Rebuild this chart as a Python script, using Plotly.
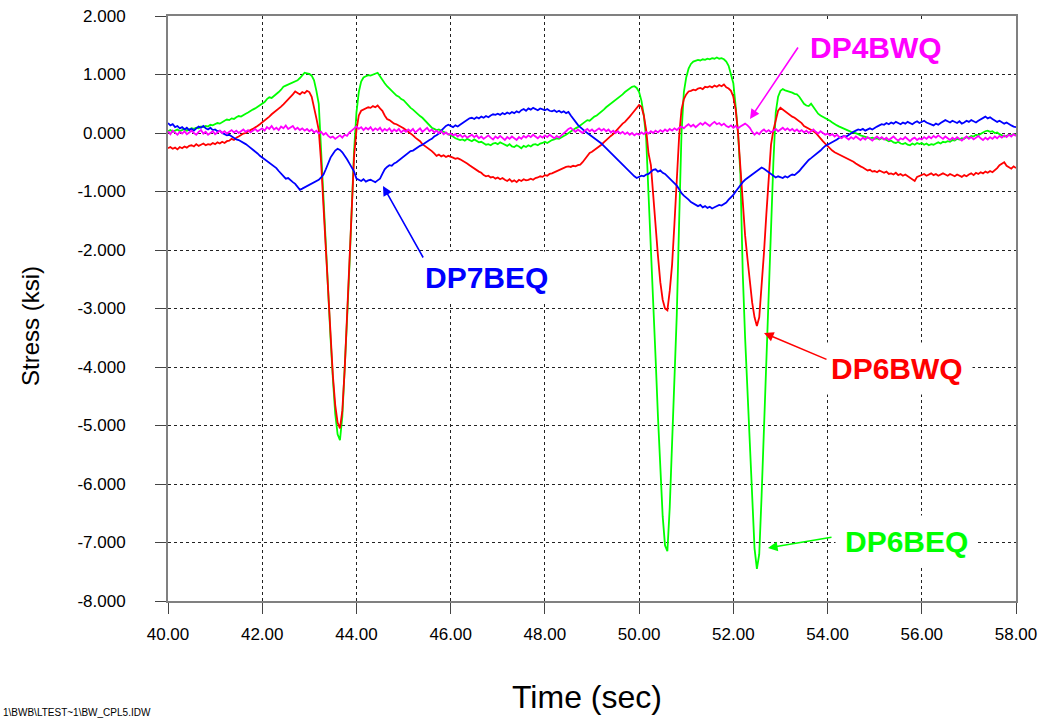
import plotly.graph_objects as go

# ---------------- data (0.05 s sampling, 40.00 .. 58.00 s) ----------------
T_START = 40.0
T_STEP = 0.05

DP6BEQ = [  # green
    0.03, 0.05, 0.02, 0.04, 0.06, 0.03, 0.05, 0.07, 0.04, 0.06, 0.08, 0.07, 0.09, 0.08, 0.11, 0.10, 0.12, 0.11, 0.14, 0.13,
    0.15, 0.17, 0.16, 0.19, 0.21, 0.23, 0.22, 0.25, 0.24, 0.27, 0.29, 0.28, 0.31, 0.33, 0.35, 0.38, 0.40, 0.42, 0.45, 0.47,
    0.50, 0.53, 0.58, 0.61, 0.60, 0.63, 0.66, 0.70, 0.74, 0.79, 0.81, 0.83, 0.84, 0.86, 0.88, 0.90, 0.94, 0.98, 1.03, 1.02,
    1.01, 0.98, 0.90, 0.72, 0.50, -0.30, -1.15, -1.95, -2.75, -3.50, -4.20, -4.80, -5.15, -5.25, -4.85, -4.10, -3.20, -2.30, -1.20, -0.30,
    0.35, 0.70, 0.88, 0.95, 0.97, 0.99, 0.98, 1.00, 1.01, 1.03, 0.97, 0.90, 0.85, 0.80, 0.76, 0.72, 0.68, 0.64, 0.62, 0.58,
    0.56, 0.51, 0.47, 0.43, 0.40, 0.36, 0.33, 0.29, 0.26, 0.22, 0.18, 0.13, 0.09, 0.07, 0.05, 0.06, 0.04, 0.02, 0.00, -0.02,
    -0.03, -0.06, -0.09, -0.10, -0.12, -0.11, -0.13, -0.10, -0.12, -0.14, -0.11, -0.13, -0.16, -0.15, -0.18, -0.20, -0.19, -0.21, -0.18, -0.17,
    -0.19, -0.16, -0.18, -0.20, -0.22, -0.19, -0.23, -0.24, -0.21, -0.23, -0.26, -0.22, -0.24, -0.21, -0.23, -0.20, -0.19, -0.21, -0.18, -0.17,
    -0.15, -0.17, -0.14, -0.12, -0.11, -0.09, -0.10, -0.07, -0.05, -0.03, 0.00, 0.03, 0.05, 0.08, 0.10, 0.13, 0.15, 0.19, 0.22, 0.21,
    0.25, 0.28, 0.30, 0.33, 0.37, 0.40, 0.44, 0.47, 0.51, 0.53, 0.57, 0.60, 0.62, 0.66, 0.70, 0.73, 0.76, 0.79, 0.80, 0.77,
    0.70, 0.55, 0.30, -0.10, -1.05, -1.90, -2.90, -3.85, -4.85, -5.80, -6.55, -7.05, -7.15, -6.40, -5.40, -4.20, -3.10, -1.50, 0.00, 0.70,
    0.95, 1.10, 1.18, 1.22, 1.23, 1.25, 1.24, 1.26, 1.25, 1.27, 1.26, 1.28, 1.27, 1.29, 1.27, 1.28, 1.26, 1.22, 1.15, 1.00,
    0.85, 0.45, 0.00, -0.70, -2.40, -3.50, -4.40, -5.30, -6.20, -7.10, -7.45, -7.20, -6.20, -5.00, -3.80, -2.80, -1.70, -0.50, 0.35, 0.62,
    0.72, 0.75, 0.73, 0.72, 0.70, 0.69, 0.67, 0.66, 0.62, 0.55, 0.50, 0.47, 0.46, 0.50, 0.44, 0.37, 0.33, 0.30, 0.28, 0.26,
    0.24, 0.21, 0.18, 0.15, 0.13, 0.11, 0.09, 0.07, 0.05, 0.04, 0.02, 0.01, 0.00, -0.02, -0.04, -0.05, -0.07, -0.08, -0.09, -0.08,
    -0.10, -0.09, -0.11, -0.09, -0.10, -0.12, -0.14, -0.13, -0.16, -0.17, -0.15, -0.18, -0.19, -0.17, -0.20, -0.21, -0.18, -0.20, -0.17, -0.19,
    -0.17, -0.20, -0.18, -0.21, -0.19, -0.20, -0.18, -0.16, -0.18, -0.15, -0.16, -0.14, -0.15, -0.12, -0.13, -0.10, -0.11, -0.09, -0.10, -0.07,
    -0.08, -0.05, -0.06, -0.03, -0.04, -0.01, 0.01, 0.03, 0.04, 0.02, 0.03, 0.00, 0.01, -0.02, -0.04, -0.06, -0.05, -0.03, -0.04, -0.02,
    -0.03,
]

DP6BWQ = [  # red
    -0.26, -0.24, -0.27, -0.25, -0.28, -0.24, -0.26, -0.23, -0.25, -0.22, -0.21, -0.23, -0.19, -0.22, -0.20, -0.18, -0.21, -0.19, -0.20, -0.17,
    -0.19, -0.16, -0.18, -0.15, -0.17, -0.14, -0.13, -0.10, -0.12, -0.08, -0.06, -0.03, -0.01, 0.00, 0.03, 0.05, 0.07, 0.09, 0.12, 0.15,
    0.18, 0.21, 0.25, 0.28, 0.32, 0.35, 0.38, 0.41, 0.45, 0.49, 0.53, 0.57, 0.62, 0.66, 0.71, 0.68, 0.66, 0.70, 0.68, 0.72,
    0.70, 0.62, 0.45, 0.25, 0.05, -0.50, -1.25, -2.00, -2.80, -3.50, -4.15, -4.65, -4.95, -5.05, -4.75, -4.05, -3.20, -2.30, -1.30, -0.40,
    0.05, 0.30, 0.38, 0.40, 0.42, 0.44, 0.43, 0.46, 0.44, 0.47, 0.42, 0.38, 0.30, 0.24, 0.22, 0.19, 0.16, 0.15, 0.13, 0.10,
    0.08, 0.05, 0.02, 0.00, -0.04, -0.08, -0.11, -0.14, -0.19, -0.22, -0.24, -0.28, -0.31, -0.35, -0.39, -0.37, -0.40, -0.38, -0.41, -0.39,
    -0.40, -0.42, -0.44, -0.43, -0.45, -0.47, -0.49, -0.52, -0.55, -0.58, -0.60, -0.63, -0.66, -0.68, -0.72, -0.74, -0.73, -0.76, -0.75, -0.78,
    -0.76, -0.79, -0.77, -0.80, -0.82, -0.79, -0.83, -0.81, -0.84, -0.80, -0.82, -0.79, -0.81, -0.80, -0.78, -0.80, -0.77, -0.76, -0.74, -0.75,
    -0.72, -0.73, -0.70, -0.69, -0.67, -0.65, -0.64, -0.62, -0.60, -0.58, -0.57, -0.58, -0.56, -0.57, -0.55, -0.54, -0.50, -0.44, -0.38, -0.34,
    -0.32, -0.29, -0.27, -0.23, -0.20, -0.16, -0.12, -0.09, -0.05, -0.02, 0.03, 0.08, 0.12, 0.16, 0.19, 0.23, 0.28, 0.33, 0.38, 0.44,
    0.48, 0.45, 0.30, 0.05, -0.35, -0.55, -1.10, -1.55, -2.10, -2.55, -2.85, -3.00, -3.03, -2.70, -2.25, -1.55, -0.85, -0.05, 0.40, 0.58,
    0.66, 0.71, 0.72, 0.74, 0.73, 0.76, 0.77, 0.75, 0.79, 0.78, 0.80, 0.78, 0.81, 0.79, 0.82, 0.80, 0.83, 0.78, 0.76, 0.72,
    0.62, 0.40, 0.00, -0.60, -1.25, -1.75, -2.15, -2.55, -2.90, -3.15, -3.30, -3.15, -2.65, -2.05, -1.40, -0.80, -0.20, 0.05, 0.20, 0.38,
    0.43, 0.40, 0.36, 0.34, 0.30, 0.28, 0.26, 0.23, 0.20, 0.17, 0.12, 0.10, 0.08, 0.06, 0.03, 0.00, -0.05, -0.10, -0.14, -0.18,
    -0.22, -0.27, -0.30, -0.33, -0.35, -0.37, -0.38, -0.40, -0.42, -0.44, -0.46, -0.49, -0.52, -0.55, -0.57, -0.59, -0.62, -0.64, -0.63, -0.66,
    -0.65, -0.67, -0.64, -0.66, -0.68, -0.66, -0.70, -0.69, -0.71, -0.68, -0.72, -0.70, -0.73, -0.71, -0.74, -0.76, -0.79, -0.82, -0.75, -0.73,
    -0.72, -0.70, -0.73, -0.71, -0.69, -0.72, -0.70, -0.73, -0.71, -0.69, -0.71, -0.73, -0.70, -0.72, -0.74, -0.71, -0.73, -0.75, -0.72, -0.74,
    -0.71, -0.69, -0.72, -0.68, -0.70, -0.67, -0.69, -0.66, -0.68, -0.65, -0.67, -0.64, -0.60, -0.55, -0.53, -0.50, -0.56, -0.58, -0.61, -0.57,
    -0.60,
]

DP7BEQ = [  # blue
    0.17, 0.13, 0.15, 0.10, 0.12, 0.08, 0.10, 0.06, 0.09, 0.05, 0.07, 0.04, 0.08, 0.11, 0.09, 0.12, 0.08, 0.06, 0.09, 0.05,
    0.06, 0.03, 0.04, 0.00, -0.02, -0.04, -0.03, -0.06, -0.08, -0.11, -0.12, -0.14, -0.17, -0.19, -0.22, -0.25, -0.28, -0.32, -0.35, -0.39,
    -0.42, -0.45, -0.48, -0.51, -0.53, -0.56, -0.60, -0.65, -0.70, -0.75, -0.78, -0.77, -0.81, -0.84, -0.87, -0.92, -0.97, -0.95, -0.93, -0.91,
    -0.89, -0.87, -0.85, -0.82, -0.80, -0.76, -0.71, -0.62, -0.50, -0.42, -0.36, -0.30, -0.27, -0.29, -0.33, -0.38, -0.45, -0.52, -0.60, -0.66,
    -0.78, -0.80, -0.82, -0.79, -0.83, -0.81, -0.80, -0.82, -0.84, -0.81, -0.78, -0.70, -0.62, -0.58, -0.55, -0.56, -0.52, -0.50, -0.47, -0.43,
    -0.41, -0.38, -0.34, -0.31, -0.30, -0.27, -0.24, -0.22, -0.20, -0.17, -0.15, -0.12, -0.10, -0.06, -0.04, -0.01, 0.04, 0.08, 0.12, 0.14,
    0.12, 0.10, 0.13, 0.11, 0.14, 0.17, 0.19, 0.22, 0.25, 0.26, 0.24, 0.27, 0.25, 0.28, 0.26, 0.29, 0.27, 0.30, 0.32, 0.31,
    0.33, 0.31, 0.34, 0.32, 0.35, 0.33, 0.36, 0.34, 0.37, 0.35, 0.39, 0.41, 0.38, 0.42, 0.40, 0.43, 0.41, 0.39, 0.42, 0.40,
    0.39, 0.41, 0.38, 0.37, 0.39, 0.36, 0.38, 0.35, 0.37, 0.34, 0.36, 0.30, 0.24, 0.18, 0.14, 0.10, 0.06, 0.03, 0.00, -0.03,
    -0.05, -0.08, -0.12, -0.15, -0.18, -0.22, -0.26, -0.30, -0.34, -0.38, -0.42, -0.46, -0.51, -0.55, -0.59, -0.63, -0.67, -0.71, -0.74, -0.77,
    -0.75, -0.73, -0.74, -0.71, -0.70, -0.66, -0.63, -0.62, -0.66, -0.64, -0.68, -0.70, -0.74, -0.78, -0.82, -0.86, -0.90, -0.96, -1.03, -1.07,
    -1.10, -1.14, -1.18, -1.20, -1.22, -1.25, -1.23, -1.27, -1.25, -1.28, -1.26, -1.29, -1.27, -1.25, -1.23, -1.24, -1.21, -1.19, -1.14, -1.10,
    -1.06, -1.00, -0.94, -0.88, -0.84, -0.80, -0.77, -0.74, -0.71, -0.67, -0.64, -0.62, -0.59, -0.61, -0.64, -0.68, -0.71, -0.73, -0.76, -0.74,
    -0.75, -0.77, -0.74, -0.76, -0.73, -0.71, -0.72, -0.69, -0.65, -0.60, -0.55, -0.50, -0.46, -0.43, -0.40, -0.37, -0.34, -0.30, -0.26, -0.22,
    -0.20, -0.18, -0.15, -0.13, -0.11, -0.08, -0.07, -0.05, -0.06, -0.03, -0.01, 0.02, 0.04, 0.06, 0.05, 0.07, 0.04, 0.06, 0.08, 0.06,
    0.09, 0.11, 0.13, 0.15, 0.14, 0.17, 0.15, 0.18, 0.16, 0.19, 0.17, 0.15, 0.18, 0.16, 0.19, 0.17, 0.15, 0.18, 0.20, 0.17,
    0.19, 0.21, 0.18, 0.16, 0.15, 0.13, 0.16, 0.14, 0.17, 0.19, 0.22, 0.20, 0.18, 0.21, 0.19, 0.17, 0.20, 0.16, 0.18, 0.21,
    0.19, 0.22, 0.20, 0.18, 0.21, 0.23, 0.26, 0.28, 0.25, 0.27, 0.24, 0.22, 0.19, 0.21, 0.18, 0.16, 0.18, 0.15, 0.13, 0.11,
    0.10,
]

DP4BWQ = [  # magenta
    0.03, -0.02, 0.04, 0.00, -0.03, 0.02, -0.01, 0.03, -0.02, 0.01, 0.04, 0.00, -0.03, 0.02, 0.05, -0.01, 0.02, -0.03, 0.00, 0.03,
    -0.02, 0.01, 0.04, 0.00, 0.03, -0.01, 0.02, 0.05, 0.01, 0.04, 0.00, 0.03, 0.06, 0.02, 0.05, 0.01, 0.04, 0.07, 0.03, 0.06,
    0.08, 0.04, 0.10, 0.07, 0.12, 0.06, 0.09, 0.05, 0.11, 0.08, 0.13, 0.07, 0.10, 0.12, 0.06, 0.09, 0.05, 0.08, 0.04, 0.07,
    0.03, 0.06, 0.01, 0.04, -0.01, 0.02, -0.03, 0.00, -0.05, -0.08, -0.06, -0.10, -0.07, -0.04, -0.08, -0.03, -0.05, 0.01, 0.04, 0.08,
    0.11, 0.07, 0.10, 0.05, 0.09, 0.06, 0.10, 0.04, 0.08, 0.05, 0.09, 0.03, 0.07, 0.04, 0.08, 0.02, 0.06, 0.03, 0.07, 0.01,
    0.05, 0.02, 0.06, 0.03, 0.07, 0.01, 0.04, 0.08, 0.02, 0.05, 0.09, 0.03, 0.06, 0.01, 0.04, 0.00, 0.03, -0.02, 0.01, -0.03,
    -0.01, -0.04, -0.02, -0.06, -0.03, -0.07, -0.04, -0.08, -0.05, -0.03, -0.07, -0.04, -0.09, -0.06, -0.10, -0.07, -0.04, -0.08, -0.11, -0.06,
    -0.09, -0.05, -0.08, -0.12, -0.07, -0.10, -0.06, -0.09, -0.12, -0.07, -0.10, -0.05, -0.08, -0.04, -0.07, -0.03, -0.06, -0.09, -0.05, -0.08,
    -0.04, -0.07, -0.03, -0.06, -0.09, -0.05, -0.08, -0.04, -0.01, 0.03, 0.07, 0.09, 0.05, 0.02, 0.06, 0.03, 0.00, 0.04, 0.07, 0.03,
    0.06, 0.02, 0.05, 0.08, 0.04, 0.07, 0.03, 0.06, 0.01, 0.04, 0.00, 0.03, -0.01, 0.02, -0.02, 0.01, -0.03, 0.00, -0.04, -0.01,
    -0.03, 0.01, -0.02, 0.02, -0.01, 0.03, 0.00, 0.04, 0.01, 0.05, 0.02, 0.06, 0.03, 0.07, 0.04, 0.08, 0.05, 0.09, 0.11, 0.08,
    0.12, 0.15, 0.11, 0.14, 0.10, 0.13, 0.17, 0.14, 0.18, 0.15, 0.12, 0.16, 0.19, 0.15, 0.17, 0.13, 0.16, 0.12, 0.10, 0.13,
    0.09, 0.12, 0.08, 0.11, 0.14, 0.16, 0.13, 0.09, 0.02, -0.03, 0.01, -0.02, 0.03, 0.06, 0.02, 0.05, 0.01, 0.04, 0.07, 0.03,
    0.06, 0.09, 0.05, 0.08, 0.04, 0.07, 0.03, 0.06, 0.02, 0.05, 0.01, 0.04, 0.00, 0.03, 0.06, 0.02, -0.01, 0.03, 0.00, -0.03,
    -0.01, -0.04, -0.02, -0.06, -0.03, -0.07, -0.09, -0.05, -0.08, -0.11, -0.07, -0.10, -0.06, -0.09, -0.12, -0.08, -0.11, -0.07, -0.10, -0.13,
    -0.09, -0.06, -0.10, -0.07, -0.11, -0.08, -0.12, -0.09, -0.06, -0.10, -0.13, -0.09, -0.11, -0.07, -0.10, -0.14, -0.10, -0.08, -0.12, -0.09,
    -0.11, -0.07, -0.10, -0.06, -0.09, -0.05, -0.08, -0.04, -0.07, -0.10, -0.06, -0.09, -0.12, -0.08, -0.11, -0.07, -0.10, -0.13, -0.09, -0.06,
    -0.10, -0.07, -0.11, -0.08, -0.05, -0.09, -0.12, -0.08, -0.11, -0.07, -0.10, -0.06, -0.09, -0.05, -0.08, -0.04, -0.07, -0.03, -0.06, -0.02,
    -0.05,
]

X_TICKS = [40, 42, 44, 46, 48, 50, 52, 54, 56, 58]
X_TICK_LABELS = ["40.00", "42.00", "44.00", "46.00", "48.00", "50.00", "52.00", "54.00", "56.00", "58.00"]
Y_TICKS = [2, 1, 0, -1, -2, -3, -4, -5, -6, -7, -8]
Y_TICK_LABELS = ["2.000", "1.000", "0.000", "-1.000", "-2.000", "-3.000", "-4.000",
                 "-5.000", "-6.000", "-7.000", "-8.000"]

SERIES = [
    ("DP6BEQ", DP6BEQ, "#00ff00"),
    ("DP6BWQ", DP6BWQ, "#ff0000"),
    ("DP7BEQ", DP7BEQ, "#0000ff"),
    ("DP4BWQ", DP4BWQ, "#ff00ff"),
]

# ---------------- layout geometry ----------------
W, H = 1045, 719
ML, MR, MT, MB = 168, 29, 16, 118
PW, PH = W - ML - MR, H - MT - MB
X0, X1, Y0, Y1 = 40.0, 58.0, -8.0, 2.0


def dx(px):
    return X0 + (px - ML) / PW * (X1 - X0)


def dy(py):
    return Y1 - (py - MT) / PH * (Y1 - Y0)


def papx(px):
    return (px - ML) / PW


def papy(py):
    return (H - MB - py) / PH


fig = go.Figure()
for name, vals, color in SERIES:
    times = [round(T_START + T_STEP * i, 2) for i in range(len(vals))]
    fig.add_trace(go.Scatter(x=times, y=vals, mode="lines", name=name,
                             line=dict(color=color, width=1.8), hoverinfo="skip"))

FONT = "Liberation Sans, Arial, sans-serif"

annotations = []
# label boxes: (text, color, text-centre px, arrow head px, arrow tail px)
LABELS = [
    ("DP4BWQ", "#ff00ff", (876, 47), (750, 119), (799, 46)),
    ("DP7BEQ", "#0000ff", (486, 277), (383, 186), (424, 259)),
    ("DP6BWQ", "#ff0000", (897, 368), (764, 333), (828, 360)),
    ("DP6BEQ", "#00ff00", (906, 541), (768, 548), (833, 537)),
]
for text, color, (cx, cy), (hx, hy), (tx, ty) in LABELS:
    annotations.append(dict(x=dx(cx), y=dy(cy), xref="x", yref="y", text="<b>%s</b>" % text,
                            showarrow=False, font=dict(family=FONT, size=30, color=color),
                            bgcolor="white", borderpad=9, xanchor="center", yanchor="middle"))
    annotations.append(dict(x=dx(hx), y=dy(hy), xref="x", yref="y", ax=dx(tx), ay=dy(ty),
                            axref="x", ayref="y", text="", showarrow=True, arrowhead=2,
                            arrowsize=1.2, arrowwidth=1.6, arrowcolor=color))

# axis titles
annotations.append(dict(x=papx(30), y=papy(326), xref="paper", yref="paper", text="Stress (ksi)",
                        textangle=-90, showarrow=False, font=dict(family=FONT, size=24, color="black"),
                        xanchor="center", yanchor="middle"))
annotations.append(dict(x=papx(587), y=papy(697), xref="paper", yref="paper", text="Time (sec)",
                        showarrow=False, font=dict(family=FONT, size=32, color="black"),
                        xanchor="center", yanchor="middle"))
# file path footnote
annotations.append(dict(x=papx(1), y=papy(705), xref="paper", yref="paper",
                        text="1\\BWB\\LTEST~1\\BW_CPL5.IDW", showarrow=False,
                        font=dict(family=FONT, size=10, color="black"),
                        xanchor="left", yanchor="top"))

axis_common = dict(showgrid=True, gridcolor="#222222", gridwidth=1, griddash="3px,3px",
                   showline=True, linecolor="#808080", linewidth=2, mirror=True,
                   ticks="outside", ticklen=11, tickcolor="#444444", tickwidth=1,
                   zeroline=False, automargin=False,
                   tickfont=dict(family=FONT, size=17, color="black"))

fig.update_layout(
    width=W, height=H, margin=dict(l=ML, r=MR, t=MT, b=MB, pad=0, autoexpand=False),
    plot_bgcolor="white", paper_bgcolor="white", showlegend=False,
    xaxis=dict(range=[X0, X1], tickvals=X_TICKS, ticktext=X_TICK_LABELS, ticklabelstandoff=6,
               **axis_common),
    yaxis=dict(range=[Y0, Y1], tickvals=Y_TICKS, ticktext=Y_TICK_LABELS, ticklabelstandoff=26,
               **axis_common),
    annotations=annotations,
)

fig.write_html("out.html")
